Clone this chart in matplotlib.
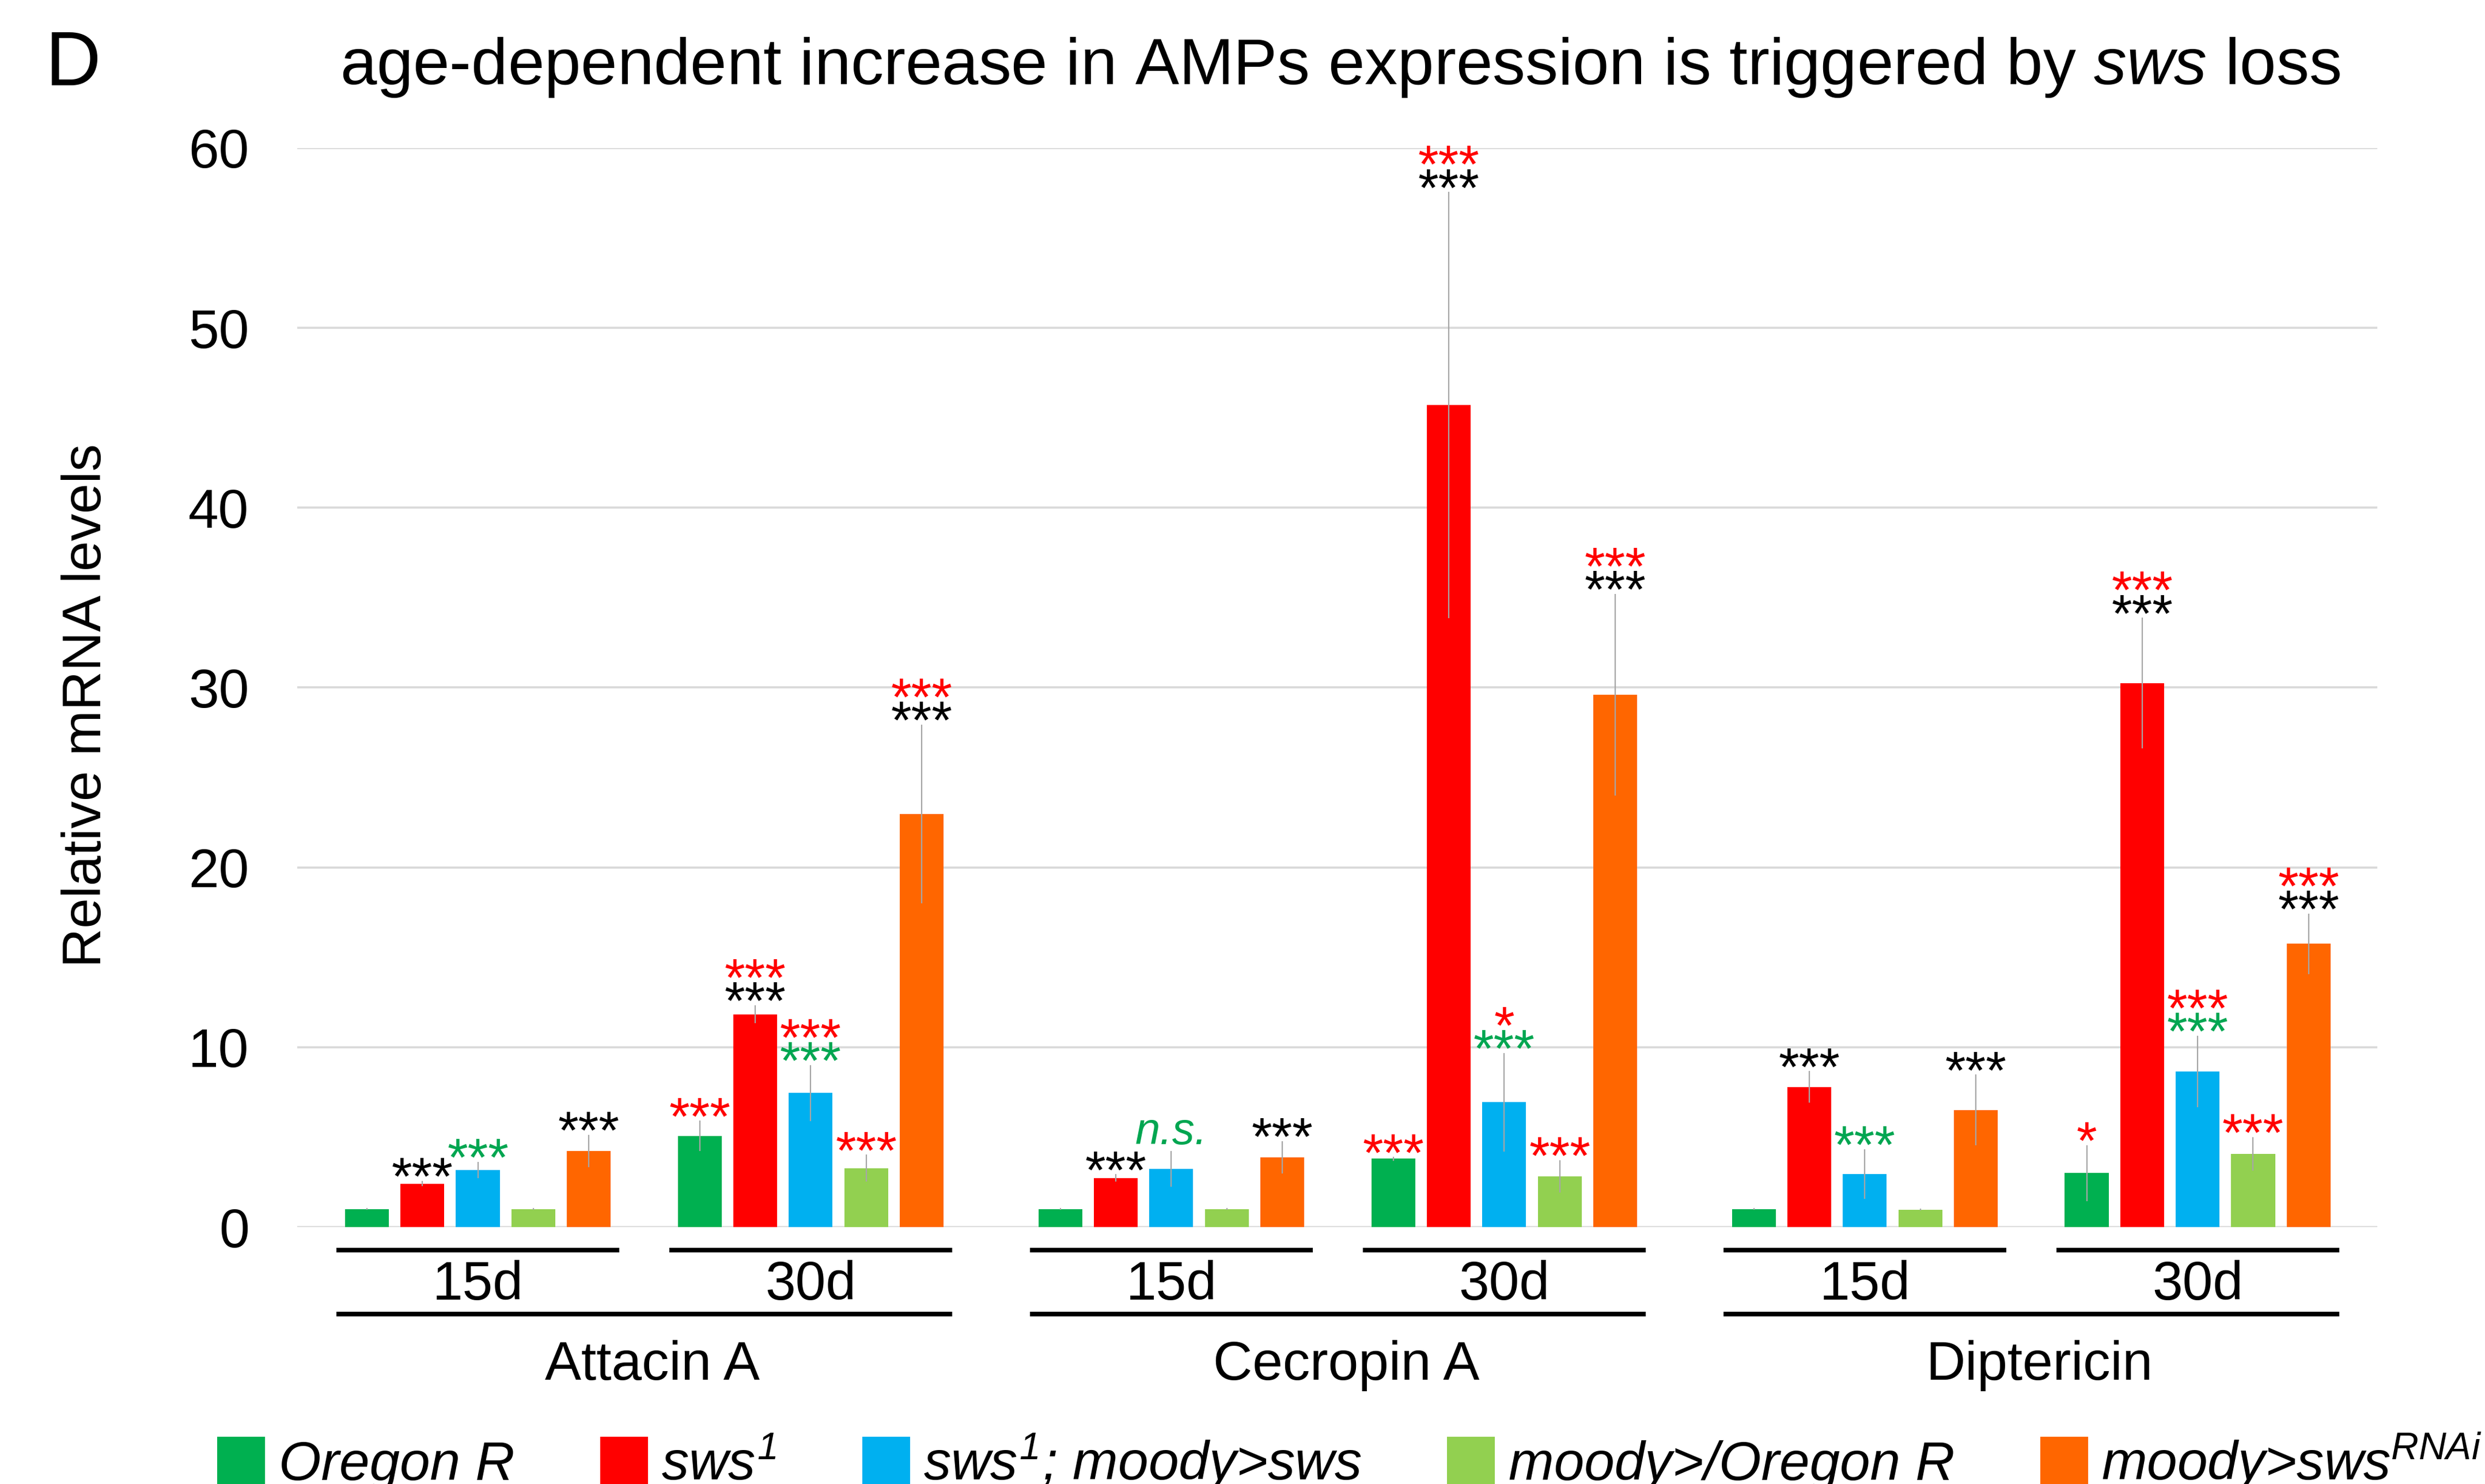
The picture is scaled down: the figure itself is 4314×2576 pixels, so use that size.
import matplotlib

matplotlib.use('Agg')
import matplotlib.pyplot as plt
from matplotlib.font_manager import FontProperties
import numpy as np

# data (mean relative mRNA level, +/- error)
genes = ['Attacin A', 'Cecropin A', 'Diptericin']
ages = ['15d', '30d']
genotypes = ['Oregon R', r'$sws^{1}$', r'$sws^{1}$; moody>sws',
             'moody>/Oregon R', r'moody>sws$^{RNAi}$']
colors = ['#00B050', '#FF0000', '#00B0F0', '#92D050', '#FF6600']

# order: Attacin 15d, Attacin 30d, Cecropin 15d, Cecropin 30d, Diptericin 15d, Diptericin 30d
oregon = [1.0, 5.07, 1.0, 3.8, 1.0, 3.0]
sws1 = [2.42, 11.83, 2.74, 45.7, 7.8, 30.25]
rescue = [3.17, 7.45, 3.23, 6.94, 2.94, 8.65]
moody_oregon = [1.0, 3.28, 1.0, 2.82, 0.97, 4.08]
rnai = [4.24, 22.96, 3.88, 29.6, 6.51, 15.75]

oregon_err = [0.05, 0.85, 0.05, 0.1, 0.05, 1.55]
sws1_err = [0.15, 0.5, 0.2, 11.85, 0.87, 3.63]
rescue_err = [0.45, 1.56, 1.0, 2.74, 1.38, 2.0]
moody_oregon_err = [0.05, 0.75, 0.05, 0.9, 0.05, 0.93]
rnai_err = [0.9, 4.97, 0.9, 5.6, 1.97, 1.69]

# significance marks, bottom to top: (text, colour)
oregon_sig = [[], [('***', 'r')], [], [('***', 'r')], [], [('*', 'r')]]
sws1_sig = [[('***', 'k')], [('***', 'k'), ('***', 'r')], [('***', 'k')],
            [('***', 'k'), ('***', 'r')], [('***', 'k')], [('***', 'k'), ('***', 'r')]]
rescue_sig = [[('***', 'g')], [('***', 'g'), ('***', 'r')], [('n.s.', 'g')],
              [('***', 'g'), ('*', 'r')], [('***', 'g')], [('***', 'g'), ('***', 'r')]]
moody_oregon_sig = [[], [('***', 'r')], [], [('***', 'r')], [], [('***', 'r')]]
rnai_sig = [[('***', 'k')], [('***', 'k'), ('***', 'r')], [('***', 'k')],
            [('***', 'k'), ('***', 'r')], [('***', 'k')], [('***', 'k'), ('***', 'r')]]

values = [oregon, sws1, rescue, moody_oregon, rnai]
errors = [oregon_err, sws1_err, rescue_err, moody_oregon_err, rnai_err]
sigs = [oregon_sig, sws1_sig, rescue_sig, moody_oregon_sig, rnai_sig]
sig_colors = {'r': '#FF0000', 'k': '#000000', 'g': '#00A651'}

plt.rcParams['font.family'] = ['Liberation Sans', 'DejaVu Sans']
plt.rcParams['mathtext.fontset'] = 'custom'
plt.rcParams['mathtext.it'] = 'Liberation Sans:italic'
plt.rcParams['mathtext.rm'] = 'Liberation Sans:italic'
plt.rcParams['mathtext.default'] = 'it'

FS = 34
fig = plt.figure(figsize=(21.57, 12.88), dpi=200)
ax = fig.add_axes([0.1196, 0.1731, 0.8371, 0.7272])

gene_step = 12.5
age_step = 6
cat_x = np.array([g * gene_step + a * age_step for g in range(3) for a in range(2)])

bars = []
for i in range(5):
    x = cat_x + i
    b = ax.bar(x, values[i], width=0.79, color=colors[i], zorder=2)
    bars.append(b)
    ax.errorbar(x, values[i], yerr=errors[i], fmt='none', ecolor='#A6A6A6',
                elinewidth=0.8, capsize=0, zorder=3)
    for j in range(6):
        top = values[i][j] + errors[i][j]
        for k, (txt, c) in enumerate(sigs[i][j]):
            if txt == 'n.s.':
                ax.annotate(txt, (x[j], top), xytext=(0, 4.5), textcoords='offset points',
                            ha='center', va='baseline', fontsize=28, style='italic',
                            color=sig_colors[c])
            else:
                ax.annotate(txt, (x[j], top), xytext=(0, -8.5 + 14.5 * k),
                            textcoords='offset points', ha='center', va='baseline',
                            fontsize=33, color=sig_colors[c])

ax.set_xlim(-1.256, 36.24)
ax.set_ylim(0, 60)
ax.set_yticks(range(0, 61, 10))
ax.set_xticks([])
ax.tick_params(axis='y', length=0, pad=30, labelsize=FS)
ax.yaxis.grid(True, color='#D9D9D9', linewidth=1.3)
ax.set_axisbelow(True)
for sp in ax.spines.values():
    sp.set_visible(False)

# category brackets under the axis
trans = ax.get_xaxis_transform()
for g in range(3):
    for a in range(2):
        x0 = g * gene_step + a * age_step
        ax.plot([x0 - 0.55, x0 + 4.55], [-0.0211, -0.0211], color='black', lw=2.9,
                transform=trans, clip_on=False, solid_capstyle='butt')
        ax.text(x0 + 2, -0.0673, ages[a], transform=trans, ha='center', va='baseline',
                fontsize=FS)
    x0 = g * gene_step
    ax.plot([x0 - 0.55, x0 + 10.55], [-0.0806, -0.0806], color='black', lw=2.9,
            transform=trans, clip_on=False, solid_capstyle='butt')
    ax.text(x0 + 5.15, -0.1412, genes[g], transform=trans, ha='center', va='baseline',
            fontsize=FS)

fig.text(151 / 4314, 0.5248, 'Relative mRNA levels', rotation=90, ha='center',
         va='center', fontsize=FS)
fig.text(0.5393, 0.9433, r'age-dependent increase in AMPs expression is triggered by $sws$ loss',
         ha='center', va='baseline', fontsize=41)
fig.text(0.0182, 0.9425, 'D', ha='left', va='baseline', fontsize=48)

fig.legend(bars, genotypes, loc='lower left', bbox_to_anchor=(0.0874, -0.006), ncol=5,
           frameon=False, prop=FontProperties(family='Liberation Sans', style='italic', size=FS),
           handlelength=0.88, handleheight=1.0, handletextpad=0.25, columnspacing=1.57,
           borderpad=0, borderaxespad=0)

fig.savefig('out.png', dpi=200)
